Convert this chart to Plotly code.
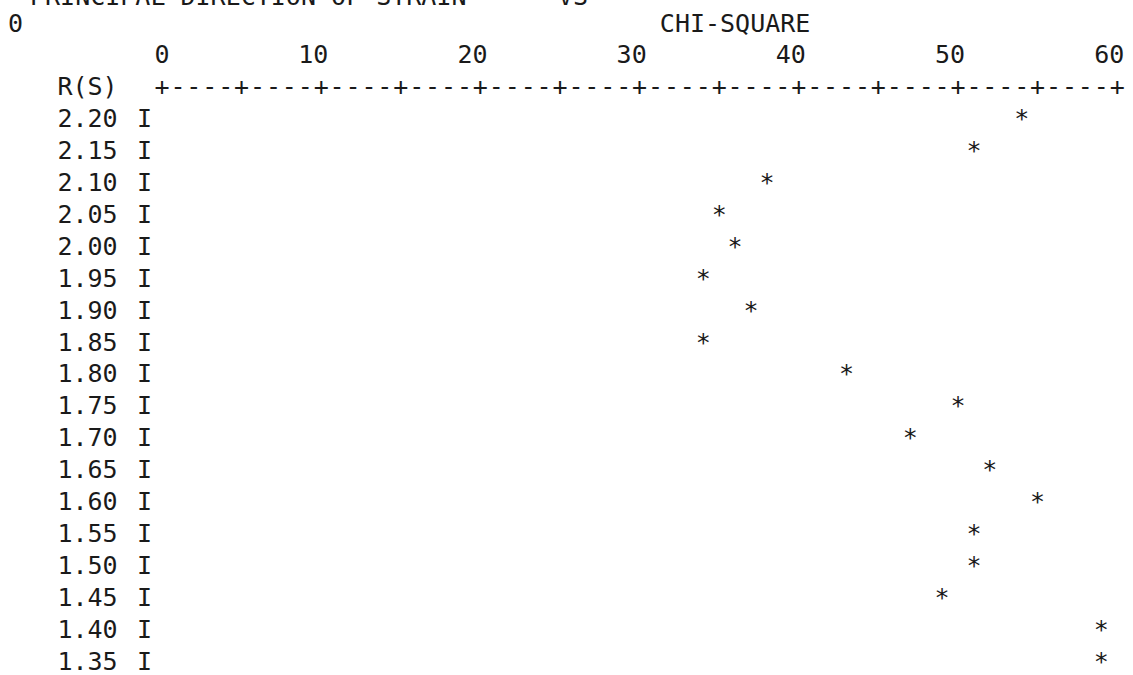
import plotly.graph_objects as go

# ---- data ----
r_values = [2.20, 2.15, 2.10, 2.05, 2.00, 1.95, 1.90, 1.85, 1.80,
            1.75, 1.70, 1.65, 1.60, 1.55, 1.50, 1.45, 1.40, 1.35]
chi_square = [54, 51, 38, 35, 36, 34, 37, 34, 43,
              50, 47, 52, 55, 51, 51, 49, 59, 59]
row_labels = ["%.2f" % r for r in r_values]
x_ticks = [0, 10, 20, 30, 40, 50, 60]
x_tick_labels = ["0", "10", "20", "30", "40", "50", "60"]
x_title = "CHI-SQUARE"
y_title = "R(S)"
plot_title = "PRINCIPAL DIRECTION OF STRAIN"
plot_title2 = "VS"

# ---- layout constants ----
W, H = 1133, 675
X0_PX, PX_PER_UNIT = 162.0, 15.92          # pixel of chi-square 0, pixels per unit
Y_TOP_PX, PX_PER_ROW = 121.0, 31.9         # pixel of first row, pixels per row
STEP = 0.05
FONT = "DejaVu Sans Mono"
FS = 25
INK = "#1a1a1a"

x_range = [-X0_PX / PX_PER_UNIT, (W - X0_PX) / PX_PER_UNIT]
r_top = r_values[0] + Y_TOP_PX / PX_PER_ROW * STEP
r_bot = r_values[0] - (H - Y_TOP_PX) / PX_PER_ROW * STEP
y_axis_row = r_values[0] + STEP          # "+----+" row
y_tick_row = r_values[0] + 2 * STEP      # tick numbers row
y_xtitle_row = r_values[0] + 3 * STEP    # CHI-SQUARE row

font = dict(family=FONT, size=FS, color=INK)

fig = go.Figure()

# data points as printer asterisks
fig.add_trace(go.Scatter(x=chi_square, y=r_values, mode="text", text=["*"] * len(r_values),
                         textposition="middle center", textfont=font, hoverinfo="x+y"))

# row labels and the "I" axis column
fig.add_trace(go.Scatter(x=[-4.68] * len(r_values), y=r_values, mode="text", text=row_labels,
                         textposition="middle center", textfont=font, hoverinfo="skip"))
fig.add_trace(go.Scatter(x=[-1.1] * len(r_values), y=r_values, mode="text", text=["I"] * len(r_values),
                         textposition="middle center", textfont=font, hoverinfo="skip"))

# horizontal printer axis "+----+----+"
axis_cols = list(range(x_ticks[0], x_ticks[-1] + 1))
axis_chars = ["+" if c % 5 == 0 else "-" for c in axis_cols]
fig.add_trace(go.Scatter(x=axis_cols, y=[y_axis_row] * len(axis_cols), mode="text", text=axis_chars,
                         textposition="middle center", textfont=font, hoverinfo="skip"))
fig.add_trace(go.Scatter(x=[-4.68], y=[y_axis_row], mode="text", text=[y_title],
                         textposition="middle center", textfont=font, hoverinfo="skip"))

# tick numbers (last digit above the "+")
tick_x = [t - (len(s) - 1) / 2 for t, s in zip(x_ticks, x_tick_labels)]
fig.add_trace(go.Scatter(x=tick_x, y=[y_tick_row] * len(x_ticks), mode="text", text=x_tick_labels,
                         textposition="middle center", textfont=font, hoverinfo="skip"))

# axis title row and carriage control "0"
fig.add_trace(go.Scatter(x=[36.0, -9.2], y=[y_xtitle_row, y_xtitle_row], mode="text",
                         text=[x_title, "0"], textposition="middle center", textfont=font,
                         hoverinfo="skip"))

# cut-off title line at the top edge
for txt, px in [(plot_title, 28), (plot_title2, 556)]:
    fig.add_annotation(text=txt, xref="paper", yref="paper", x=px / W, y=1 + 3 / H,
                       xanchor="left", yanchor="middle", showarrow=False, font=font)

fig.update_layout(
    width=W, height=H,
    margin=dict(l=0, r=0, t=0, b=0),
    paper_bgcolor="white", plot_bgcolor="white",
    showlegend=False,
    xaxis=dict(range=x_range, visible=False, fixedrange=True),
    yaxis=dict(range=[r_bot, r_top], visible=False, fixedrange=True),
)

fig.write_html("out.html", config={"displayModeBar": False},
               post_script="document.body.style.margin='0';")
